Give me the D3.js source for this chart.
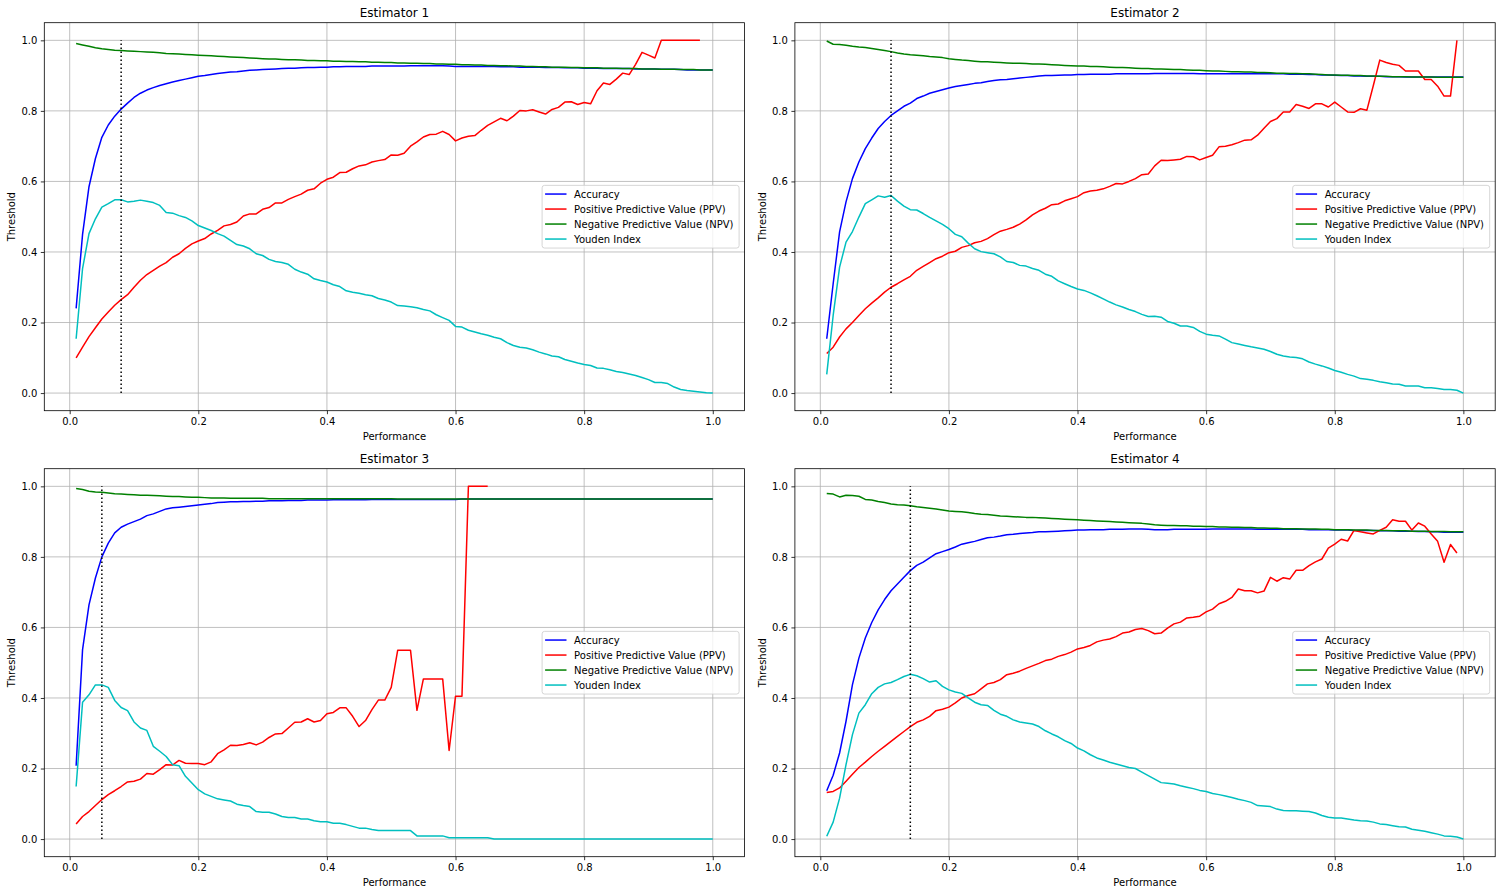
<!DOCTYPE html>
<html><head><meta charset="utf-8">
<script src="https://cdn.jsdelivr.net/npm/d3@7"></script>
<style>body{margin:0;background:#fff}svg{display:block}text{font-family:"DejaVu Sans",sans-serif;fill:#000}</style>
</head><body><svg id="c" width="1504" height="895"></svg>
<script>
const thresholds = [0.01,0.02,0.03,0.04,0.05,0.06,0.07,0.08,0.09,0.10,0.11,0.12,0.13,0.14,0.15,0.16,0.17,0.18,0.19,0.20,0.21,0.22,0.23,0.24,0.25,0.26,0.27,0.28,0.29,0.30,0.31,0.32,0.33,0.34,0.35,0.36,0.37,0.38,0.39,0.40,0.41,0.42,0.43,0.44,0.45,0.46,0.47,0.48,0.49,0.50,0.51,0.52,0.53,0.54,0.55,0.56,0.57,0.58,0.59,0.60,0.61,0.62,0.63,0.64,0.65,0.66,0.67,0.68,0.69,0.70,0.71,0.72,0.73,0.74,0.75,0.76,0.77,0.78,0.79,0.80,0.81,0.82,0.83,0.84,0.85,0.86,0.87,0.88,0.89,0.90,0.91,0.92,0.93,0.94,0.95,0.96,0.97,0.98,0.99,1.00];
const seriesNames = ["Accuracy","Positive Predictive Value (PPV)","Negative Predictive Value (NPV)","Youden Index"];
const seriesColors = ["#0000ff","#ff0000","#008000","#00bfbf"];
const titles = ["Estimator 1","Estimator 2","Estimator 3","Estimator 4"];
const cutoffs = [0.08,0.11,0.05,0.14];
const xTicks = [0.0,0.2,0.4,0.6,0.8,1.0];
const yTicks = [0.0,0.2,0.4,0.6,0.8,1.0];
const xLabel = "Performance";
const yLabel = "Threshold";

const est1Accuracy = [0.24,0.45,0.585,0.665,0.725,0.76,0.785,0.805,0.822,0.838,
0.85,0.859,0.866,0.872,0.877,0.882,0.886,0.89,0.894,0.898,
0.9,0.903,0.906,0.908,0.91,0.911,0.913,0.915,0.916,0.917,
0.918,0.919,0.92,0.921,0.921,0.922,0.923,0.923,0.924,0.924,
0.925,0.925,0.926,0.926,0.926,0.926,0.927,0.927,0.927,0.927,
0.927,0.927,0.928,0.928,0.928,0.928,0.928,0.928,0.927,0.926,
0.926,0.926,0.926,0.926,0.926,0.926,0.925,0.925,0.925,0.924,
0.924,0.924,0.924,0.923,0.923,0.923,0.922,0.922,0.922,0.921,
0.921,0.921,0.92,0.92,0.92,0.92,0.92,0.919,0.919,0.919,
0.919,0.918,0.918,0.918,0.917,0.916,0.916,0.916,0.916,0.916];
const est1PPV = [0.10,0.13,0.16,0.185,0.21,0.23,0.249,0.265,0.279,0.30,
0.32,0.336,0.348,0.36,0.37,0.385,0.395,0.41,0.423,0.431,
0.438,0.451,0.461,0.474,0.478,0.485,0.502,0.508,0.508,0.521,
0.526,0.539,0.539,0.549,0.557,0.564,0.575,0.579,0.595,0.606,
0.612,0.625,0.626,0.636,0.644,0.647,0.655,0.659,0.662,0.675,
0.674,0.68,0.70,0.712,0.726,0.733,0.734,0.742,0.733,0.715,
0.723,0.728,0.73,0.745,0.759,0.769,0.779,0.772,0.785,0.801,
0.80,0.803,0.797,0.791,0.804,0.81,0.825,0.826,0.818,0.824,
0.82,0.857,0.879,0.875,0.89,0.907,0.903,0.932,0.966,0.958,
0.95,1.0,1.0,1.0,1.0,1.0,1.0,1.0,null,null];
const est1NPV = [0.991,0.987,0.983,0.979,0.976,0.974,0.972,0.971,0.970,0.969,
0.968,0.967,0.966,0.965,0.963,0.962,0.961,0.960,0.959,0.958,
0.957,0.956,0.955,0.954,0.953,0.952,0.951,0.950,0.949,0.948,
0.947,0.947,0.946,0.945,0.945,0.944,0.943,0.943,0.942,0.942,
0.941,0.941,0.940,0.940,0.939,0.939,0.938,0.938,0.937,0.937,
0.936,0.936,0.935,0.935,0.934,0.934,0.933,0.933,0.932,0.932,
0.931,0.931,0.930,0.930,0.929,0.929,0.928,0.928,0.927,0.927,
0.926,0.926,0.925,0.925,0.924,0.924,0.924,0.923,0.923,0.922,
0.922,0.922,0.921,0.921,0.921,0.920,0.920,0.920,0.919,0.919,
0.919,0.918,0.918,0.918,0.917,0.917,0.917,0.916,0.916,0.916];
const est1Youden = [0.154,0.353,0.452,0.494,0.527,0.537,0.548,0.548,0.542,0.544,
0.547,0.544,0.54,0.532,0.512,0.51,0.503,0.498,0.488,0.475,
0.468,0.461,0.452,0.445,0.433,0.421,0.417,0.409,0.395,0.39,
0.379,0.373,0.37,0.365,0.351,0.343,0.337,0.324,0.319,0.315,
0.307,0.302,0.29,0.286,0.283,0.279,0.276,0.268,0.264,0.258,
0.248,0.247,0.245,0.242,0.237,0.233,0.222,0.214,0.206,0.189,
0.187,0.178,0.173,0.168,0.164,0.158,0.154,0.143,0.135,0.13,
0.128,0.123,0.116,0.111,0.105,0.103,0.095,0.09,0.085,0.081,
0.078,0.071,0.07,0.066,0.061,0.058,0.054,0.05,0.044,0.038,
0.03,0.03,0.027,0.017,0.01,0.007,0.005,0.003,0.001,0.0];

const est2Accuracy = [0.154,0.31,0.457,0.542,0.608,0.655,0.693,0.723,0.75,0.77,
0.787,0.80,0.813,0.822,0.835,0.842,0.85,0.855,0.86,0.865,
0.869,0.872,0.875,0.878,0.88,0.883,0.886,0.888,0.889,0.891,
0.893,0.895,0.897,0.899,0.9,0.9,0.901,0.902,0.902,0.903,
0.903,0.904,0.904,0.904,0.904,0.905,0.905,0.905,0.905,0.905,
0.905,0.906,0.906,0.906,0.906,0.906,0.906,0.906,0.905,0.905,
0.905,0.905,0.905,0.905,0.905,0.905,0.905,0.905,0.905,0.905,
0.905,0.905,0.904,0.904,0.904,0.903,0.903,0.902,0.902,0.901,
0.9,0.9,0.899,0.899,0.898,0.898,0.898,0.897,0.897,0.897,
0.896,0.896,0.896,0.896,0.896,0.896,0.896,0.896,0.896,0.896];
const est2PPV = [0.112,0.13,0.159,0.182,0.2,0.22,0.239,0.255,0.27,0.286,
0.30,0.31,0.321,0.331,0.348,0.359,0.37,0.381,0.388,0.398,
0.402,0.413,0.418,0.426,0.43,0.438,0.449,0.459,0.464,0.47,
0.479,0.491,0.505,0.516,0.524,0.534,0.536,0.545,0.551,0.557,
0.568,0.573,0.575,0.579,0.586,0.594,0.593,0.6,0.608,0.619,
0.621,0.644,0.66,0.659,0.661,0.663,0.671,0.67,0.661,0.668,
0.674,0.698,0.70,0.704,0.71,0.717,0.718,0.731,0.751,0.77,
0.778,0.797,0.797,0.818,0.813,0.807,0.82,0.82,0.811,0.825,
0.811,0.797,0.796,0.806,0.802,0.872,0.944,0.937,0.932,0.929,
0.913,0.913,0.913,0.889,0.889,0.87,0.842,0.842,1.0,null];
const est2NPV = [0.998,0.989,0.988,0.986,0.983,0.981,0.98,0.977,0.974,0.971,
0.968,0.964,0.961,0.959,0.958,0.956,0.954,0.953,0.951,0.948,
0.946,0.944,0.943,0.941,0.939,0.939,0.938,0.937,0.936,0.935,
0.935,0.934,0.933,0.933,0.932,0.931,0.930,0.929,0.928,0.927,
0.927,0.926,0.926,0.925,0.924,0.923,0.923,0.922,0.921,0.920,
0.920,0.919,0.919,0.918,0.917,0.917,0.916,0.915,0.915,0.914,
0.913,0.913,0.912,0.911,0.911,0.910,0.910,0.909,0.909,0.908,
0.907,0.907,0.906,0.906,0.905,0.905,0.904,0.903,0.902,0.902,
0.901,0.901,0.900,0.900,0.899,0.899,0.898,0.898,0.897,0.897,
0.897,0.896,0.896,0.896,0.896,0.895,0.895,0.895,0.895,0.895];
const est2Youden = [0.053,0.22,0.357,0.428,0.458,0.499,0.537,0.548,0.559,0.555,
0.56,0.544,0.53,0.52,0.519,0.509,0.498,0.488,0.478,0.466,
0.45,0.443,0.425,0.409,0.401,0.398,0.395,0.386,0.373,0.37,
0.362,0.36,0.353,0.348,0.337,0.331,0.318,0.31,0.302,0.295,
0.291,0.284,0.276,0.267,0.258,0.25,0.244,0.237,0.231,0.223,
0.217,0.218,0.215,0.203,0.198,0.19,0.19,0.186,0.175,0.167,
0.164,0.162,0.153,0.143,0.139,0.135,0.131,0.128,0.124,0.118,
0.11,0.105,0.102,0.101,0.097,0.088,0.082,0.077,0.071,0.064,
0.059,0.053,0.048,0.041,0.039,0.036,0.032,0.029,0.026,0.025,
0.02,0.02,0.02,0.015,0.015,0.013,0.01,0.01,0.008,0.0];

const est3Accuracy = [0.208,0.537,0.664,0.74,0.80,0.839,0.868,0.884,0.893,0.90,
0.907,0.917,0.922,0.929,0.936,0.939,0.941,0.943,0.945,0.947,
0.949,0.951,0.954,0.955,0.956,0.956,0.957,0.957,0.958,0.958,
0.959,0.959,0.959,0.960,0.960,0.960,0.961,0.961,0.961,0.961,
0.962,0.962,0.962,0.962,0.962,0.962,0.963,0.963,0.963,0.963,
0.963,0.963,0.963,0.963,0.963,0.963,0.963,0.963,0.963,0.963,
0.964,0.964,0.964,0.964,0.964,0.964,0.964,0.964,0.964,0.964,
0.964,0.964,0.964,0.964,0.964,0.964,0.964,0.964,0.964,0.964,
0.964,0.964,0.964,0.964,0.964,0.964,0.964,0.964,0.964,0.964,
0.964,0.964,0.964,0.964,0.964,0.964,0.964,0.964,0.964,0.964];
const est3PPV = [0.043,0.064,0.078,0.095,0.112,0.126,0.137,0.149,0.162,0.164,
0.17,0.186,0.184,0.197,0.211,0.21,0.223,0.215,0.214,0.214,
0.211,0.219,0.242,0.253,0.266,0.265,0.268,0.273,0.267,0.275,
0.288,0.298,0.299,0.315,0.331,0.332,0.341,0.332,0.336,0.355,
0.359,0.372,0.372,0.348,0.319,0.336,0.367,0.394,0.394,0.43,
0.535,0.535,0.535,0.365,0.454,0.454,0.454,0.454,0.251,0.405,
0.405,1.0,1.0,1.0,1.0,null,null,null,null,null,
null,null,null,null,null,null,null,null,null,null,
null,null,null,null,null,null,null,null,null,null,
null,null,null,null,null,null,null,null,null,null];
const est3NPV = [0.994,0.991,0.986,0.984,0.983,0.981,0.979,0.978,0.977,0.976,
0.975,0.975,0.974,0.973,0.972,0.971,0.971,0.970,0.969,0.969,
0.968,0.967,0.967,0.967,0.966,0.966,0.966,0.966,0.966,0.966,
0.965,0.965,0.965,0.965,0.965,0.965,0.965,0.965,0.965,0.965,
0.965,0.965,0.965,0.965,0.965,0.965,0.965,0.965,0.965,0.965,
0.964,0.964,0.964,0.964,0.964,0.964,0.964,0.964,0.964,0.964,
0.964,0.964,0.964,0.964,0.964,0.964,0.964,0.964,0.964,0.964,
0.964,0.964,0.964,0.964,0.964,0.964,0.964,0.964,0.964,0.964,
0.964,0.964,0.964,0.964,0.964,0.964,0.964,0.964,0.964,0.964,
0.964,0.964,0.964,0.964,0.964,0.964,0.964,0.964,0.964,0.964];
const est3Youden = [0.149,0.388,0.409,0.437,0.437,0.43,0.393,0.373,0.364,0.332,
0.315,0.308,0.263,0.249,0.234,0.211,0.208,0.178,0.159,0.14,
0.128,0.121,0.114,0.111,0.108,0.099,0.095,0.092,0.078,0.076,
0.076,0.071,0.064,0.061,0.061,0.057,0.057,0.052,0.049,0.049,
0.045,0.045,0.041,0.036,0.031,0.031,0.027,0.024,0.024,0.024,
0.024,0.024,0.024,0.009,0.009,0.009,0.009,0.009,0.004,0.004,
0.004,0.004,0.004,0.004,0.004,0,0,0,0,0,
0,0,0,0,0,0,0,0,0,0,
0,0,0,0,0,0,0,0,0,0,
0,0,0,0,0,0,0,0,0,0];

const est4Accuracy = [0.137,0.181,0.244,0.334,0.438,0.513,0.57,0.614,0.65,0.679,
0.704,0.723,0.742,0.761,0.776,0.785,0.797,0.809,0.815,0.821,
0.828,0.836,0.84,0.844,0.849,0.854,0.856,0.859,0.863,0.864,
0.866,0.868,0.869,0.871,0.871,0.872,0.873,0.874,0.875,0.876,
0.876,0.877,0.877,0.877,0.878,0.878,0.878,0.879,0.879,0.879,
0.878,0.877,0.877,0.877,0.878,0.878,0.878,0.878,0.878,0.878,
0.879,0.879,0.879,0.879,0.879,0.879,0.879,0.878,0.878,0.878,
0.878,0.878,0.878,0.878,0.878,0.877,0.877,0.877,0.877,0.876,
0.876,0.876,0.875,0.875,0.875,0.875,0.874,0.874,0.874,0.873,
0.873,0.873,0.872,0.872,0.871,0.871,0.870,0.870,0.870,0.870];
const est4PPV = [0.132,0.135,0.145,0.164,0.184,0.203,0.218,0.234,0.249,0.263,
0.277,0.291,0.305,0.319,0.331,0.338,0.348,0.364,0.368,0.374,
0.386,0.40,0.407,0.412,0.426,0.44,0.444,0.452,0.466,0.47,
0.476,0.484,0.491,0.498,0.506,0.51,0.518,0.523,0.53,0.539,
0.543,0.549,0.559,0.564,0.567,0.574,0.584,0.587,0.594,0.597,
0.591,0.582,0.584,0.598,0.61,0.615,0.627,0.629,0.632,0.644,
0.652,0.667,0.674,0.685,0.709,0.704,0.704,0.698,0.703,0.742,
0.731,0.741,0.737,0.762,0.762,0.775,0.786,0.794,0.825,0.836,
0.85,0.845,0.875,0.871,0.868,0.865,0.875,0.884,0.905,0.901,
0.901,0.876,0.896,0.887,0.865,0.844,0.785,0.835,0.811,null];
const est4NPV = [0.98,0.978,0.97,0.975,0.974,0.972,0.963,0.961,0.957,0.954,
0.95,0.948,0.947,0.945,0.942,0.94,0.938,0.936,0.933,0.93,
0.929,0.928,0.926,0.923,0.921,0.92,0.918,0.916,0.915,0.914,
0.913,0.912,0.912,0.911,0.910,0.909,0.908,0.907,0.906,0.905,
0.904,0.903,0.902,0.901,0.900,0.899,0.898,0.897,0.896,0.895,
0.893,0.891,0.890,0.889,0.889,0.888,0.888,0.887,0.887,0.886,
0.886,0.885,0.885,0.884,0.884,0.883,0.883,0.882,0.882,0.881,
0.881,0.880,0.880,0.880,0.879,0.879,0.879,0.878,0.878,0.877,
0.877,0.877,0.876,0.876,0.876,0.875,0.875,0.875,0.874,0.874,
0.874,0.873,0.873,0.873,0.872,0.872,0.872,0.871,0.871,0.871];
const est4Youden = [0.008,0.048,0.116,0.211,0.296,0.357,0.381,0.412,0.43,0.44,
0.444,0.452,0.461,0.467,0.463,0.455,0.445,0.449,0.433,0.423,
0.417,0.413,0.40,0.388,0.381,0.379,0.365,0.354,0.348,0.338,
0.332,0.329,0.326,0.319,0.307,0.298,0.29,0.279,0.271,0.258,
0.25,0.239,0.23,0.224,0.218,0.213,0.208,0.203,0.20,0.19,
0.18,0.17,0.16,0.158,0.156,0.151,0.147,0.143,0.138,0.135,
0.129,0.126,0.122,0.118,0.113,0.109,0.104,0.095,0.094,0.092,
0.085,0.081,0.08,0.08,0.079,0.078,0.074,0.067,0.062,0.06,
0.06,0.057,0.054,0.052,0.051,0.048,0.043,0.041,0.038,0.035,
0.034,0.028,0.025,0.022,0.018,0.014,0.009,0.008,0.006,0.0];

const estimators = [
  [est1Accuracy, est1PPV, est1NPV, est1Youden],
  [est2Accuracy, est2PPV, est2NPV, est2Youden],
  [est3Accuracy, est3PPV, est3NPV, est3Youden],
  [est4Accuracy, est4PPV, est4NPV, est4Youden]
];

const svg = d3.select("#c");
svg.append("rect").attr("width",1504).attr("height",895).attr("fill","#fff");

const W = 700.3, H = 388;
const origins = [[44.3,22.7],[794.9,22.7],[44.3,468.7],[794.9,468.7]];
const fmt = d3.format(".1f");

estimators.forEach((series, k) => {
  const [ox, oy] = origins[k];
  const g = svg.append("g").attr("transform", `translate(${ox},${oy})`);
  const x = d3.scaleLinear().domain([-0.0395, 1.0495]).range([0, W]);
  const y = d3.scaleLinear().domain([-0.05, 1.05]).range([H, 0]);

  // grid
  g.append("g").selectAll("line").data(xTicks).join("line")
    .attr("x1", d => x(d)).attr("x2", d => x(d)).attr("y1", 0).attr("y2", H)
    .attr("stroke", "#b0b0b0").attr("stroke-width", 0.8);
  g.append("g").selectAll("line").data(yTicks).join("line")
    .attr("y1", d => y(d)).attr("y2", d => y(d)).attr("x1", 0).attr("x2", W)
    .attr("stroke", "#b0b0b0").attr("stroke-width", 0.8);

  // axes
  const xa = g.append("g").attr("transform", `translate(0,${H})`)
    .call(d3.axisBottom(x).tickValues(xTicks).tickFormat(fmt).tickSizeOuter(0).tickSizeInner(3.5).tickPadding(3.5));
  const ya = g.append("g")
    .call(d3.axisLeft(y).tickValues(yTicks).tickFormat(fmt).tickSizeOuter(0).tickSizeInner(3.5).tickPadding(3.5));
  [xa, ya].forEach(a => {
    a.select(".domain").remove();
    a.selectAll(".tick line").attr("stroke", "#000").attr("stroke-width", 0.8);
    a.selectAll(".tick text").attr("font-size", 10).attr("font-family", "DejaVu Sans").attr("fill", "#000");
  });
  ya.selectAll(".tick text").attr("dy", "0.34em");

  const line = d3.line().defined(d => d[1] !== null).x(d => x(d[0])).y(d => y(d[1]));
  const clipId = "clip" + k;
  g.append("clipPath").attr("id", clipId).append("rect").attr("width", W).attr("height", H);
  const plot = g.append("g").attr("clip-path", `url(#${clipId})`);
  series.forEach((vals, i) => {
    plot.append("path")
      .datum(thresholds.map((t, j) => [t, vals[j]]))
      .attr("d", line).attr("fill", "none")
      .attr("stroke", seriesColors[i]).attr("stroke-width", 1.5)
      .attr("stroke-linejoin", "round").attr("stroke-linecap", "butt");
  });
  // cutoff
  plot.append("line")
    .attr("x1", x(cutoffs[k])).attr("x2", x(cutoffs[k]))
    .attr("y1", y(0)).attr("y2", y(1))
    .attr("stroke", "#000").attr("stroke-width", 1.5).attr("stroke-dasharray", "1.5,2.5");

  // frame
  g.append("rect").attr("width", W).attr("height", H).attr("fill", "none")
    .attr("stroke", "#000").attr("stroke-width", 0.8);

  // title and labels
  g.append("text").attr("x", W / 2).attr("y", -6).attr("text-anchor", "middle")
    .attr("font-size", 12).text(titles[k]);
  g.append("text").attr("x", W / 2).attr("y", H + 29).attr("text-anchor", "middle")
    .attr("font-size", 10).text(xLabel);
  g.append("text").attr("transform", `translate(${-29},${H / 2}) rotate(-90)`)
    .attr("text-anchor", "middle").attr("font-size", 10).text(yLabel);

  // legend
  const lw = 197, lh = 62.7;
  const lx = W - 5.5 - lw, ly = H / 2 - lh / 2;
  const lg = g.append("g").attr("transform", `translate(${lx},${ly})`);
  lg.append("rect").attr("width", lw).attr("height", lh).attr("rx", 2.5)
    .attr("fill", "#fff").attr("fill-opacity", 0.8)
    .attr("stroke", "#cccccc").attr("stroke-width", 0.8);
  seriesNames.forEach((name, i) => {
    const cy = 8.7 + i * 15;
    lg.append("line").attr("x1", 3).attr("x2", 24.4).attr("y1", cy).attr("y2", cy)
      .attr("stroke", seriesColors[i]).attr("stroke-width", 1.5);
    lg.append("text").attr("x", 32).attr("y", cy).attr("dy", "0.35em")
      .attr("font-size", 10).text(name);
  });
});
</script>
</body></html>
